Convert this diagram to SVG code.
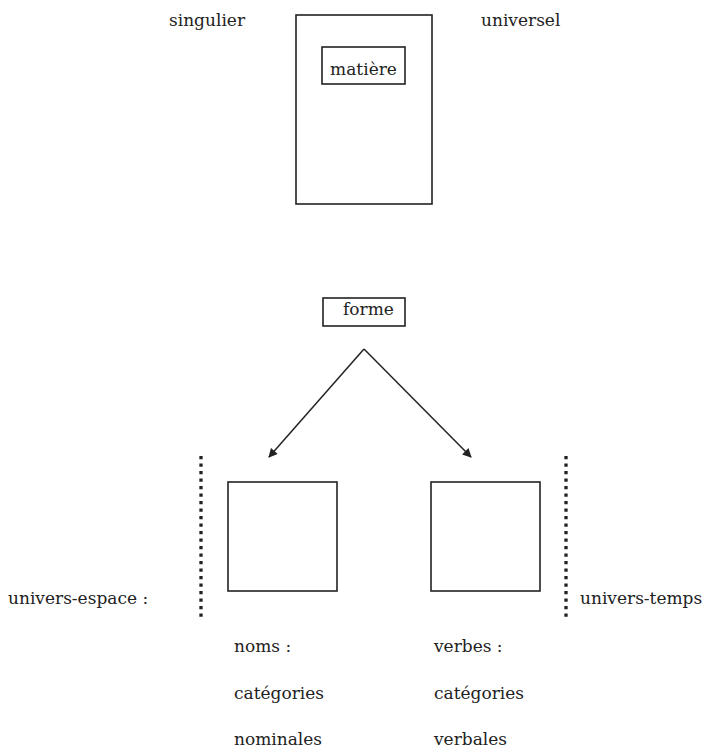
<svg xmlns="http://www.w3.org/2000/svg" width="706" height="748" viewBox="0 0 706 748">
  <style>
    text { font-family: 'DejaVu Serif', serif; font-size: 17px; fill: #222; }
    .box { fill: none; stroke: #222; stroke-width: 1.6; }
    .edge { fill: none; stroke: #222; stroke-width: 1.5; }
    .dots { fill: none; stroke: #222; stroke-width: 3.3; stroke-dasharray: 3.3 4.2; }
  </style>
  <defs>
    <marker id="arrow" viewBox="0 0 10 10" refX="9" refY="5" markerWidth="10" markerHeight="9" markerUnits="userSpaceOnUse" orient="auto">
      <path d="M0,0 L10,5 L0,10 Z" fill="#222"/>
    </marker>
  </defs>
  <rect width="706" height="748" fill="#fff"/>

  <text x="169" y="26">singulier</text>
  <text x="481" y="26">universel</text>

  <g id="matiere-frame">
    <rect class="box" x="296" y="15" width="136" height="189"/>
  </g>
  <g id="matiere">
    <rect class="box" x="322" y="47" width="83" height="37"/>
    <text x="363.5" y="75" text-anchor="middle">matière</text>
  </g>

  <g id="forme">
    <rect class="box" x="323" y="298" width="82" height="28"/>
    <text x="343" y="315">forme</text>
  </g>

  <g id="connectors">
    <line class="edge" x1="364" y1="349" x2="269" y2="457" marker-end="url(#arrow)"/>
    <line class="edge" x1="364" y1="349" x2="471" y2="457" marker-end="url(#arrow)"/>
  </g>

  <g id="espace-line">
    <line class="dots" x1="201" y1="456" x2="201" y2="618"/>
  </g>
  <g id="temps-line">
    <line class="dots" x1="566" y1="456" x2="566" y2="618"/>
  </g>

  <g id="noms">
    <rect class="box" x="228" y="482" width="109" height="109"/>
    <text x="234" y="652">noms :</text>
    <text x="234" y="699">catégories</text>
    <text x="234" y="745">nominales</text>
  </g>

  <g id="verbes">
    <rect class="box" x="431" y="482" width="109" height="109"/>
    <text x="434" y="652">verbes :</text>
    <text x="434" y="699">catégories</text>
    <text x="434" y="745">verbales</text>
  </g>

  <text x="8" y="604">univers-espace :</text>
  <text x="580" y="604">univers-temps</text>
</svg>
